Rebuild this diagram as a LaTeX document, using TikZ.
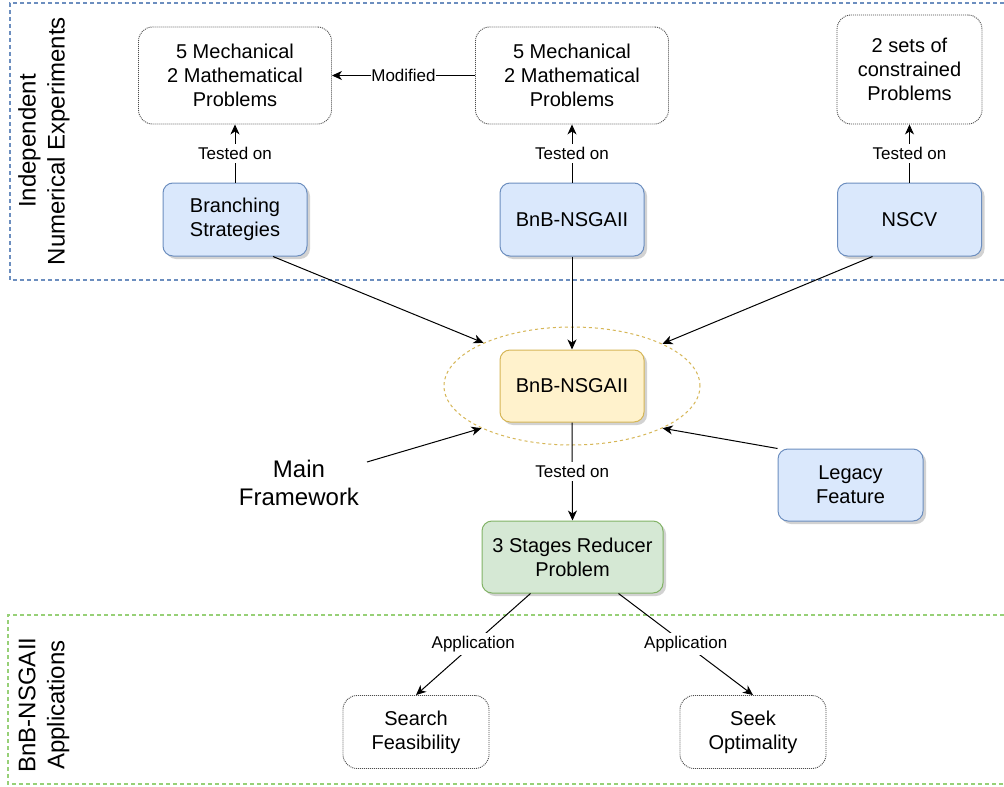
\documentclass[tikz,border=0pt]{standalone}
\usepackage{fontspec}
\setmainfont{Liberation Sans}
\usetikzlibrary{arrows.meta,shapes.geometric,shadows,calc}
\definecolor{bfill}{HTML}{DAE8FC}
\definecolor{bdraw}{HTML}{6C8EBF}
\definecolor{yfill}{HTML}{FFF2CC}
\definecolor{ydraw}{HTML}{D6B656}
\definecolor{gfill}{HTML}{D5E8D4}
\definecolor{gdraw}{HTML}{82B366}
\definecolor{gdash}{HTML}{97D077}
\begin{document}
\begin{tikzpicture}[x=1pt,y=-1pt,
  every node/.style={font=\fontsize{20}{24}\selectfont, align=center, inner sep=0pt},
  solidbox/.style={rounded corners=10pt, line width=1pt, minimum width=144pt, minimum height=73pt,
    drop shadow={shadow xshift=3pt,shadow yshift=-3pt,fill=black!35,opacity=0.5}},
  bluebox/.style={solidbox, fill=bfill, draw=bdraw},
  dotbox/.style={draw=black!70, dash pattern=on 1pt off 1pt, rounded corners=14pt, line width=0.9pt},
  conn/.style={line width=1pt, -{Stealth[length=10pt,width=9pt,inset=3pt]}},
  lbl/.style={font=\fontsize{17}{20}\selectfont, fill=white, inner xsep=0.5pt, inner ysep=3pt},
  grouplbl/.style={font=\fontsize{24}{29}\selectfont, rotate=90},
  groupframe/.style={line width=1.1pt, dash pattern=on 4pt off 3pt},
]
\useasboundingbox (0,0) rectangle (1004,787);
\fill[white] (0,0) rectangle (1004,787);

% group frames
\draw[groupframe, draw=bdraw] (1004,3) -- (10,3) -- (10,280) -- (1004,280);
\draw[groupframe, draw=gdash] (1004,615) -- (8,615) -- (8,784) -- (1004,784);
\node[grouplbl] (g1) at (44,141) {Independent\\Numerical Experiments};
\node[grouplbl] (g2) at (44,705) {BnB-NSGAII\\Applications};

% top row
\node[dotbox, minimum width=193pt, minimum height=97pt] (p1) at (235,75.5) {5 Mechanical\\2 Mathematical\\Problems};
\node[dotbox, minimum width=193pt, minimum height=97pt] (p2) at (572,75.5) {5 Mechanical\\2 Mathematical\\Problems};
\node[dotbox, minimum width=145pt, minimum height=109pt] (p3) at (909.5,69.5) {2 sets of\\constrained\\Problems};
\node[bluebox] (bs) at (235,219.5) {Branching\\Strategies};
\node[bluebox] (bnb) at (572,219.5) {BnB-NSGAII};
\node[bluebox] (nscv) at (909.5,219.5) {NSCV};

% middle
\node[draw=ydraw, dashed, ellipse, minimum width=256pt, minimum height=118pt, line width=1pt] (ell) at (572,386) {};
\node[solidbox, fill=yfill, draw=ydraw, minimum height=72pt] (core) at (572,386) {BnB-NSGAII};
\node[solidbox, fill=gfill, draw=gdraw, minimum width=181pt, minimum height=72pt] (red) at (572.5,557) {3 Stages Reducer\\Problem};
\node[bluebox, minimum width=145pt, minimum height=72pt] (leg) at (850.5,485) {Legacy\\Feature};
\node[font=\fontsize{24}{28.8}\selectfont] (mf) at (299,483) {Main\\Framework};
\coordinate (mfa) at (367,462);

% bottom
\node[dotbox, minimum width=146pt, minimum height=73pt] (sf) at (416,732) {Search\\Feasibility};
\node[dotbox, minimum width=146pt, minimum height=73pt] (so) at (753,732) {Seek\\Optimality};

% connectors
\draw[conn] (bs.north) -- node[lbl]{Tested on} (p1.south);
\draw[conn] (bnb.north) -- node[lbl]{Tested on} (p2.south);
\draw[conn] (nscv.north) -- node[lbl]{Tested on} (p3.south);
\draw[conn] (p2.west) -- node[lbl]{Modified} (p1.east);
\draw[conn] ($(bs.south)+(38,0)$) -- (ell.154.5);
\draw[conn] (bnb.south) -- (core.north);
\draw[conn] ($(nscv.south)+(-37,0)$) -- (ell.25.8);
\draw[conn] (mfa) -- (ell.205);
\draw[conn] (leg.north west) -- (ell.335);
\draw[conn] (core.south) -- node[lbl]{Tested on} (red.north);
\draw[conn] ($(red.south)+(-42,0)$) -- node[lbl]{Application} (sf.north);
\draw[conn] ($(red.south)+(46,0)$) -- node[lbl]{Application} (so.north);
\end{tikzpicture}
\end{document}
